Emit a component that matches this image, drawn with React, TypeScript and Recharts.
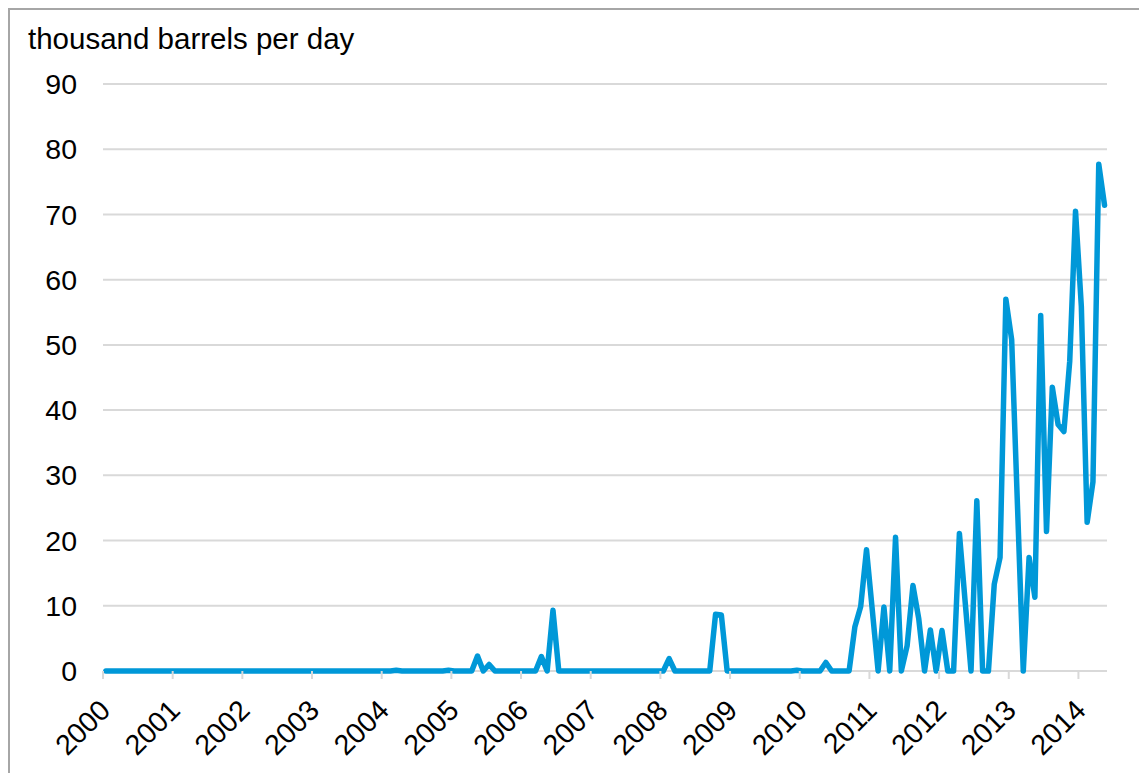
import { LineChart, Line, XAxis, YAxis, CartesianGrid } from 'recharts'

// monthly imports, thousand barrels per day (Jan 2000 – May 2014)
const startYear = 2000
const zeroYear = [0, 0, 0, 0, 0, 0, 0, 0, 0, 0, 0, 0]

const values2000 = zeroYear
const values2001 = zeroYear
const values2002 = zeroYear
const values2003 = zeroYear
const values2004 = [0, 0, 0.1, 0, 0, 0, 0, 0, 0, 0, 0, 0.1]
const values2005 = [0, 0, 0, 0, 2.3, 0, 1.0, 0, 0, 0, 0, 0]
const values2006 = [0, 0, 0, 2.2, 0, 9.3, 0, 0, 0, 0, 0, 0]
const values2007 = zeroYear
const values2008 = [0, 1.9, 0, 0, 0, 0, 0, 0, 0, 8.7, 8.6, 0]
const values2009 = [0, 0, 0, 0, 0, 0, 0, 0, 0, 0, 0, 0.1]
const values2010 = [0, 0, 0, 0, 1.3, 0, 0, 0, 0, 6.8, 9.9, 18.6]
const values2011 = [9.3, 0, 9.8, 0, 20.5, 0, 3.9, 13.1, 8.0, 0, 6.3, 0]
const values2012 = [6.2, 0, 0, 21.1, 10.5, 0, 26.1, 0, 0, 13.3, 17.4, 57.0]
const values2013 = [50.8, 25.4, 0, 17.4, 11.3, 54.5, 21.4, 43.5, 37.8, 36.7, 47.5, 70.5]
const values2014 = [55.9, 22.8, 29.0, 77.7, 71.4]

const yearlyValues = [
  values2000, values2001, values2002, values2003, values2004, values2005, values2006, values2007,
  values2008, values2009, values2010, values2011, values2012, values2013, values2014,
]

const tickYears = [2000, 2001, 2002, 2003, 2004, 2005, 2006, 2007, 2008, 2009, 2010, 2011, 2012, 2013, 2014]
const yTicks = [0, 10, 20, 30, 40, 50, 60, 70, 80, 90]

// points placed at mid-month on a decimal-year axis
const data = yearlyValues.flatMap((months, yi) =>
  months.map((v, mi) => ({ t: startYear + yi + (mi + 0.5) / 12, v }))
)

const FONT = '"Liberation Sans", Arial, sans-serif'

function YearTick({ x, y, payload }: any) {
  const ax = x + 9
  const ay = y + 33
  return (
    <text
      x={ax}
      y={ay}
      transform={`rotate(-45, ${ax}, ${ay})`}
      textAnchor="end"
      fontSize={28.5}
      fill="#000"
      fontFamily={FONT}
    >
      {payload.value}
    </text>
  )
}

export default function App() {
  return (
    <div
      style={{
        position: 'relative',
        width: 1137,
        height: 763,
        borderTop: '2px solid #a6a6a6',
        borderLeft: '2px solid #a6a6a6',
        fontFamily: FONT,
        background: '#fff',
      }}
    >
      <div
        style={{
          position: 'absolute',
          left: 18,
          top: 14,
          fontSize: 29.5,
          lineHeight: 1,
          color: '#000',
          whiteSpace: 'nowrap',
        }}
      >
        thousand barrels per day
      </div>
      <LineChart
        width={1137}
        height={763}
        data={data}
        margin={{ top: 74, right: 40, bottom: 12, left: 0 }}
      >
        <CartesianGrid vertical={false} stroke="#d9d9d9" strokeWidth={2} />
        <XAxis
          type="number"
          dataKey="t"
          domain={[2000, 2014.41]}
          ticks={tickYears}
          interval={0}
          height={90}
          axisLine={false}
          tickLine={{ stroke: '#d9d9d9', strokeWidth: 2 }}
          tickSize={8}
          tickMargin={0}
          tick={<YearTick />}
        />
        <YAxis
          domain={[0, 90]}
          ticks={yTicks}
          width={93}
          axisLine={false}
          tickLine={false}
          tickSize={0}
          tickMargin={26}
          tick={{ fontSize: 28.5, fill: '#000', fontFamily: FONT }}
        />
        <Line
          type="linear"
          dataKey="v"
          stroke="#0098d8"
          strokeWidth={5.5}
          strokeLinejoin="round"
          strokeLinecap="round"
          dot={false}
          isAnimationActive={false}
        />
      </LineChart>
    </div>
  )
}
